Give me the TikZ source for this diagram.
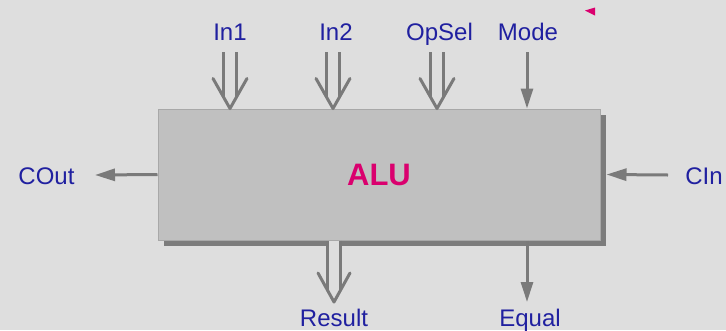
\documentclass[tikz,border=0pt]{standalone}
\usepackage{fontspec}
\setmainfont{Liberation Sans}
\usetikzlibrary{arrows.meta,shadows,calc}
\definecolor{bg}{RGB}{222,222,222}
\definecolor{boxfill}{RGB}{192,192,192}
\definecolor{boxedge}{RGB}{168,168,168}
\definecolor{shadowc}{RGB}{124,124,124}
\definecolor{wire}{RGB}{122,122,122}
\definecolor{lbl}{RGB}{32,32,160}
\definecolor{alutext}{RGB}{218,0,110}
\begin{document}
\begin{tikzpicture}[x=1pt,y=-1pt,
  port/.style={text=lbl, font=\fontsize{24}{28}\selectfont, anchor=base, inner sep=0pt},
  sig/.style={draw=wire, line width=3pt, -{Triangle[length=20pt,width=12pt]}},
  busline/.style={draw=wire, line width=3pt, double=bg, double distance=10pt},
  bushead/.style={draw=wire, line width=3pt, line join=round, line cap=round},
  block/.style={draw=boxedge, line width=1pt, fill=boxfill, minimum width=442pt, minimum height=131pt, inner sep=0pt,
    drop shadow={shadow xshift=6pt, shadow yshift=-6pt, fill=shadowc, opacity=1},
    text=alutext, font=\bfseries\fontsize{31}{36}\selectfont}
  ]
\fill[bg] (0,0) rectangle (726,330);
\useasboundingbox (0,0) rectangle (726,330);

% block
\node[block] (alu) at (379,174.5) {ALU};

% labels
\node[port] (In1) at (230,40) {In1};
\node[port] (In2) at (336,40) {In2};
\node[port] (OpSel) at (439.5,40) {OpSel};
\node[port] (Mode) at (528,40) {Mode};
\node[port] (Result) at (334,326) {Result};
\node[port] (Equal) at (530,326) {Equal};
\node[port] (COut) at (46.5,184) {COut};
\node[port] (CIn) at (704,184) {CIn};

% wire ends
\coordinate (s1) at (230,52);
\coordinate (s2) at (333,52);
\coordinate (s3) at (437,52);
\coordinate (s4) at (527,52);
\coordinate (r1) at (334,302);
\coordinate (e1) at (527,302);
\coordinate (coutend) at (95,175);
\coordinate (cinstart) at (668,175);

% input buses
\foreach \s in {s1,s2,s3}{
  \draw[busline] (\s) -- ($(alu.north -| \s)+(0,-12)$);
  \draw[bushead] ($(alu.north -| \s)+(-17,-30)$) -- (alu.north -| \s) -- ($(alu.north -| \s)+(17,-30)$);
}
% Mode
\draw[sig] (s4) -- (alu.north -| s4);

% Result bus
\draw[busline] (alu.south -| r1) -- ($(r1)+(0,-12)$);
\draw[bushead] ($(r1)+(-16,-29)$) -- (r1) -- ($(r1)+(16,-29)$);
% Equal
\draw[sig] (alu.south -| e1) -- (e1);

% carry
\draw[sig] (alu.west) -- (coutend);
\draw[sig] (cinstart) -- ([xshift=6pt]alu.east);

% marker
\fill[alutext] (585,10.5) -- (595,7.5) -- (595,15.5) -- cycle;
\end{tikzpicture}
\end{document}
